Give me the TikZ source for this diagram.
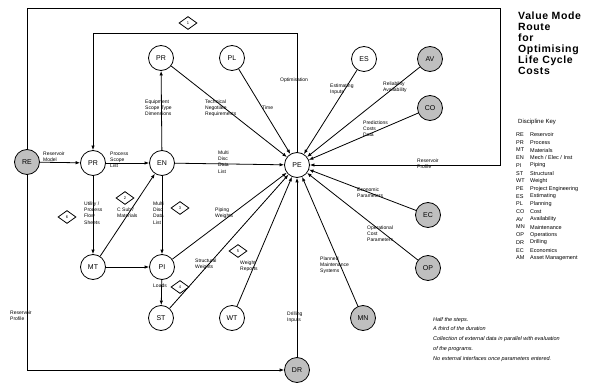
\documentclass[tikz,border=0pt]{standalone}
\usepackage{fontspec}
\setmainfont{Liberation Sans}
\usetikzlibrary{arrows.meta,shapes.geometric}
\begin{document}
\begin{tikzpicture}[x=1pt,y=-1pt,
  disc/.style={circle,draw,line width=0.8pt,minimum size=25pt,inner sep=0pt,fill=white,font=\fontsize{7}{8}\selectfont},
  ext/.style={disc,fill=gray!50},
  lbl/.style={font=\fontsize{5}{6.2}\selectfont,align=left,inner sep=0pt,anchor=west},
  flow/.style={line width=0.8pt,-{Latex[length=4.5pt,width=3.5pt]}},
  dmd/.style={diamond,draw,line width=0.8pt,minimum width=18pt,minimum height=13pt,inner sep=0pt,fill=white,font=\fontsize{4}{4}\selectfont}
]
\useasboundingbox (0,0) rectangle (616,385);

% discipline nodes
\node[ext]  (RE)  at (27,162)  {RE};
\node[disc] (PR)  at (93,163)  {PR};
\node[disc] (EN)  at (162,163) {EN};
\node[disc] (MT)  at (93,267)  {MT};
\node[disc] (PI)  at (162,267) {PI};
\node[disc] (ST)  at (161,318) {ST};
\node[disc] (WT)  at (232,318) {WT};
\node[disc] (PR2) at (161,58)  {PR};
\node[disc] (PL)  at (232,58)  {PL};
\node[disc] (ES)  at (364,59)  {ES};
\node[ext]  (AV)  at (430,59)  {AV};
\node[ext]  (CO)  at (430,108) {CO};
\node[disc] (PE)  at (297,165) {PE};
\node[ext]  (EC)  at (428,215) {EC};
\node[ext]  (OP)  at (428,268) {OP};
\node[ext]  (MN)  at (363,318) {MN};
\node[ext]  (DR)  at (297,370) {DR};

% frame routes
\coordinate (o1) at (27,8);
\coordinate (o2) at (500,8);
\coordinate (o3) at (500,165);
\coordinate (i1) at (297,33);
\coordinate (i2) at (93,33);
\coordinate (b1) at (27,370);
\draw[flow] (RE.north) -- (o1) -- (o2) -- (o3) -- (PE.east);
\draw[flow] (PE.north) -- (i1) -- (i2) -- (PR.north);
\draw[flow] (RE.south) -- (b1) -- (DR.west);
\draw[flow] (DR.north) -- (PE.south);

% internal flows
\draw[flow] (RE) -- (PR);
\draw[flow] (PR) -- (EN);
\draw[flow] (PR) -- (MT);
\draw[flow] (MT) -- (EN);
\draw[flow] (MT) -- (PI);
\draw[flow] (EN) -- (PI);
\draw[flow] (EN) -- (PR2);
\draw[flow] (PI) -- (ST);
\foreach \n in {EN,PR2,PL,ES,AV,CO,EC,OP,MN,WT,ST,PI}
  \draw[flow] (\n) -- (PE);

% diamonds
\node[dmd] (d1) at (188,23)  {1};
\node[dmd] (d6) at (67,217)  {6};
\node[dmd] (d2) at (125,198) {2};
\node[dmd] (d3) at (180,208) {3};
\node[dmd] (d5) at (238,251) {5};
\node[dmd] (d4) at (180,287) {4};

% flow labels
\node[lbl,anchor=south west] (l1) at (43,162) {Reservoir\\Model};
\node[lbl] (l2)  at (110,160) {Process\\Scope\\List};
\node[lbl] (l3)  at (84,213)  {Utility /\\Process\\Flow\\Sheets};
\node[lbl] (l4)  at (117,213) {C Sub /\\Materials};
\node[lbl] (l5)  at (153,213) {Multi\\Disc\\Data\\List};
\node[lbl] (l6)  at (145,108) {Equipment\\Scope Type\\Dimensions};
\node[lbl] (l7)  at (205,108) {Technical\\Negotiate\\Requirements};
\node[lbl] (l8)  at (262,108) {Time};
\node[lbl] (l9)  at (280,80)  {Optimisation};
\node[lbl] (l10) at (330,89)  {Estimating\\Inputs};
\node[lbl] (l11) at (383,87)  {Reliability\\Availability};
\node[lbl] (l12) at (363,129) {Predictions\\Costs\\Data};
\node[lbl] (l13) at (417,164) {Reservoir\\Profile};
\node[lbl] (l14) at (357,193) {Economic\\Parameters};
\node[lbl] (l15) at (367,234) {Operational\\Cost\\Parameters};
\node[lbl] (l16) at (320,265) {Planned\\Maintenance\\Systems};
\node[lbl] (l17) at (218,162) {Multi\\Disc\\Data\\List};
\node[lbl] (l18) at (215,213) {Piping\\Weights};
\node[lbl] (l19) at (195,264) {Structural\\Weights};
\node[lbl] (l20) at (240,266) {Weight\\Reports};
\node[lbl] (l21) at (153,286) {Loads};
\node[lbl] (l22) at (287,317) {Drilling\\Inputs};
\node[lbl] (l23) at (10,316)  {Reservoir\\Profile};

% title
\node[anchor=north west,inner sep=0pt,align=left,
  font=\bfseries\fontsize{10.5}{11}\selectfont\addfontfeature{LetterSpace=6}] (title) at (518,12)
  {Value Mode\\Route\\for\\Optimising\\Life Cycle\\Costs};

% key
\node[anchor=west,inner sep=0pt,font=\fontsize{6}{7}\selectfont] (keyhead) at (518,122) {Discipline Key};
\foreach [count=\i] \a/\b in {RE/Reservoir,PR/Process,MT/Materials,EN/{Mech / Elec / Inst},PI/Piping,ST/Structural,WT/Weight,PE/Project Engineering,ES/Estimating,PL/Planning,CO/Cost,AV/Availability,MN/Maintenance,OP/Operations,DR/Drilling,EC/Economics,AM/Asset Management}{
  \node[anchor=west,inner sep=0pt,font=\fontsize{5.5}{6}\selectfont] (ka\i) at (516,127+7.7*\i) {\a};
  \node[anchor=west,inner sep=0pt,font=\fontsize{5.5}{6}\selectfont] (kb\i) at (530,127+7.7*\i) {\b};
}

% notes
\node[anchor=north west,inner sep=0pt,align=left,font=\itshape\fontsize{5.5}{9.8}\selectfont] (notes) at (433,317)
  {Half the steps.\\A third of the duration\\Collection of external data in parallel with evaluation\\of the programs.\\No external interfaces once parameters entered.};
\end{tikzpicture}
\end{document}
